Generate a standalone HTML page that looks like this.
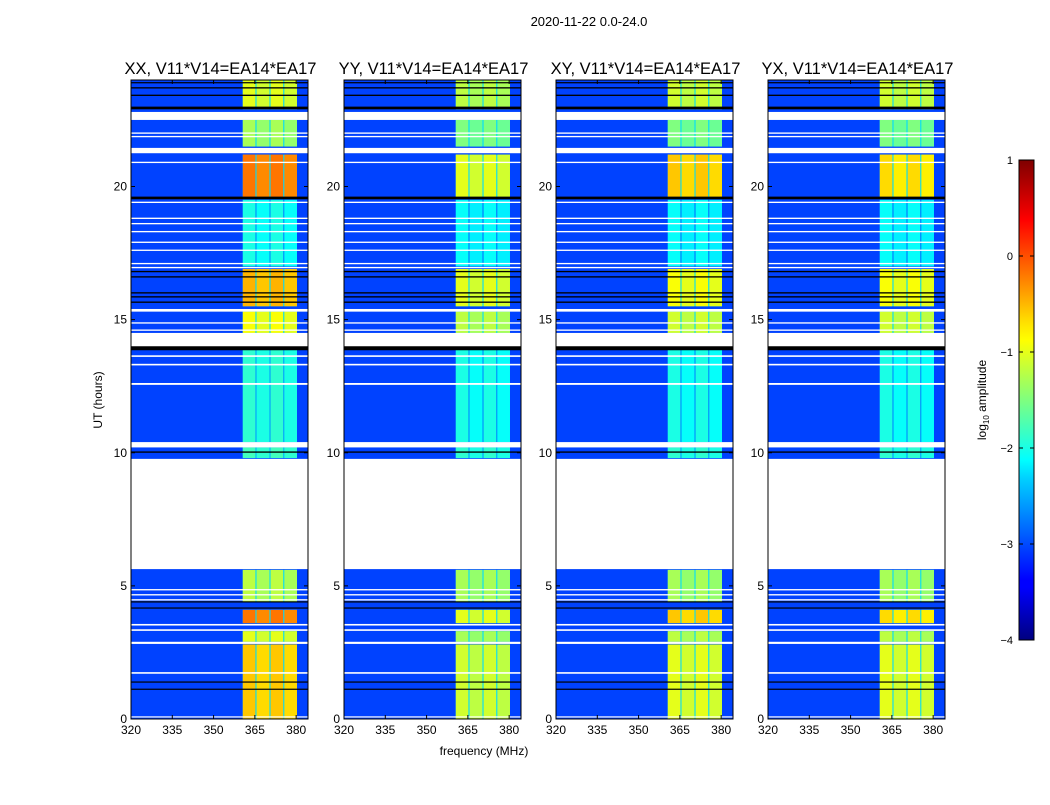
<!DOCTYPE html>
<html><head><meta charset="utf-8">
<style>
body{margin:0;background:#fff;}
svg text{font-family:"Liberation Sans",sans-serif;fill:#000;}
</style></head>
<body>
<svg id="fig" width="1050" height="800" xmlns="http://www.w3.org/2000/svg">
<defs>
<linearGradient id="jetgrad" x1="0" y1="1" x2="0" y2="0">
<stop offset="0" stop-color="#00007f"/><stop offset="0.11" stop-color="#0000ff"/>
<stop offset="0.125" stop-color="#0000ff"/><stop offset="0.34" stop-color="#00d4ff"/>
<stop offset="0.375" stop-color="#00ffff"/><stop offset="0.5" stop-color="#7fff7f"/>
<stop offset="0.625" stop-color="#ffff00"/><stop offset="0.66" stop-color="#ffe200"/>
<stop offset="0.875" stop-color="#ff0000"/><stop offset="1" stop-color="#7f0000"/>
</linearGradient>
</defs>
<text x="589" y="26" font-size="13" text-anchor="middle">2020-11-22 0.0-24.0</text>
<text transform="translate(102,400) rotate(-90)" font-size="12" text-anchor="middle">UT (hours)</text>
<text x="484" y="755" font-size="12" text-anchor="middle">frequency (MHz)</text>
<g id="panels"></g>
<g>
<rect x="1019" y="160" width="15" height="480" fill="url(#jetgrad)" stroke="#000" stroke-width="1"/>
<g id="cbticks"></g>
<text transform="translate(986,400) rotate(-90)" font-size="12" text-anchor="middle">log<tspan font-size="8" dy="3">10</tspan><tspan dy="-3"> amplitude</tspan></text>
</g>
</svg>
<script>
// ---- data ----
const panelTitles = ["XX, V11*V14=EA14*EA17","YY, V11*V14=EA14*EA17","XY, V11*V14=EA14*EA17","YX, V11*V14=EA14*EA17"];
const xTicks = [320,335,350,365,380];
const yTicks = [0,5,10,15,20];
const cbTicks = [1,0,-1,-2,-3,-4];
const subBands = [[360.6,365.2],[365.6,370.3],[370.7,375.3],[375.7,380.3]];
// time blocks [start, end] (hours) and band level (log10 amp) per polarization
const blockStart = [0, 2.9, 3.6, 4.4, 9.8, 10.4, 14.5, 15.5, 17.0, 19.6, 21.5, 22.9];
const blockEnd   = [2.8, 3.3, 4.1, 5.6, 10.2, 13.9, 15.3, 16.9, 19.5, 21.2, 22.5, 24.0];
const levelXX = [-0.6, -1.0, -0.2, -1.2, -1.8, -1.9, -0.9, -0.5, -2.0, -0.2, -1.3, -1.0];
const levelYY = [-1.1, -1.3, -1.0, -1.3, -1.9, -2.0, -1.2, -1.0, -2.1, -1.0, -1.5, -1.2];
const levelXY = [-1.0, -1.2, -0.6, -1.3, -1.9, -2.0, -1.1, -0.9, -2.1, -0.6, -1.5, -1.1];
const levelYX = [-1.0, -1.2, -0.7, -1.3, -1.9, -2.0, -1.1, -0.9, -2.1, -0.7, -1.5, -1.1];
const bgLevel = -3.05;
// flagged (white) intervals
const flagStart = [0.06, 1.70, 2.82, 3.31, 3.51, 4.45, 4.64, 4.83, 5.63, 10.2, 12.55, 13.28, 13.6, 13.95, 14.58, 14.85, 15.3, 16.93, 17.08, 17.58, 17.88, 18.28, 18.58, 18.78, 19.38, 20.88, 21.25, 21.85, 21.98, 22.5];
const flagEnd   = [0.10, 1.76, 2.90, 3.37, 3.57, 4.50, 4.69, 4.88, 9.77, 10.4, 12.62, 13.34, 13.66, 14.5, 14.63, 14.9, 15.4, 16.98, 17.13, 17.63, 17.93, 18.33, 18.63, 18.83, 19.43, 20.93, 21.45, 21.9, 22.03, 22.8];
// black (zero) lines
const zeroStart = [1.10, 1.37, 4.15, 4.38, 10.0, 13.85, 15.63, 15.83, 15.98, 16.58, 16.78, 19.52, 22.9, 23.4, 23.68, 23.88];
const zeroEnd   = [1.14, 1.41, 4.19, 4.42, 10.05, 14.0, 15.68, 15.88, 16.03, 16.63, 16.83, 19.62, 23.0, 23.45, 23.73, 23.92];

// ---- layout ----
const panelX = [131, 344, 556, 768];
const panelW = 177, plotTop = 80, plotBottom = 719;
const fMin = 320, fMax = 384.3, tMin = 0, tMax = 24;
const levels = [levelXX, levelYY, levelXY, levelYX];
const NS = "http://www.w3.org/2000/svg";
function jet(v){
  let n = (v + 4) / 5; n = Math.max(0, Math.min(1, n));
  const c = x => Math.round(255 * Math.max(0, Math.min(1, x)));
  return `rgb(${c(1.5-Math.abs(4*n-3))},${c(1.5-Math.abs(4*n-2))},${c(1.5-Math.abs(4*n-1))})`;
}
function mk(tag, attrs, parent){ const e = document.createElementNS(NS, tag); for (const k in attrs) e.setAttribute(k, attrs[k]); parent.appendChild(e); return e; }
const panels = document.getElementById('panels');
panelX.forEach((px, p) => {
  const xs = f => px + (f - fMin) / (fMax - fMin) * panelW;
  const ys = t => plotBottom - (t - tMin) / (tMax - tMin) * (plotBottom - plotTop);
  const g = mk('g', {}, panels);
  
  
  const bg = mk('rect', {x: px, y: plotTop, width: panelW, height: plotBottom-plotTop, fill: jet(bgLevel)}, g);
  
  
  blockStart.forEach((s, i) => {
    const e = blockEnd[i];
    const gap = mk('rect', {x: xs(subBands[0][0]), y: ys(e), width: xs(subBands[3][1]) - xs(subBands[0][0]), height: ys(s)-ys(e), fill: jet(Math.min(levels[p][i], -1.6) - 0.7)}, g);
    
    
    subBands.forEach((b, k) => {
      const r = mk('rect', {x: xs(b[0]), y: ys(e), width: xs(b[1]) - xs(b[0]), height: ys(s)-ys(e), fill: jet(levels[p][i] + (k===1||k===3 ? -0.1 : 0))}, g);
      
      
    });
  });
  flagStart.forEach((s, i) => {
    const r = mk('rect', {x: px, y: ys(flagEnd[i]), width: panelW, height: Math.max(1.2, ys(s)-ys(flagEnd[i])), fill: '#fff'}, g);
    
    
  });
  zeroStart.forEach((s, i) => {
    const r = mk('rect', {x: px, y: ys(zeroEnd[i]), width: panelW, height: Math.max(1.2, ys(s)-ys(zeroEnd[i])), fill: '#000'}, g);
    
    
  });
  const fr = mk('rect', {x: px, y: plotTop, width: panelW, height: plotBottom-plotTop, fill: 'none', stroke: '#000', 'stroke-width': 1}, g);
  
  
  const tt = mk('text', {x: px + panelW/2 + 1, y: 74, 'font-size': 16.5, 'text-anchor': 'middle'}, g);
  tt.textContent = panelTitles[p];
  
  
  xTicks.forEach(f => {
    mk('line', {x1: xs(f), x2: xs(f), y1: plotBottom, y2: plotBottom-4, stroke: '#000'}, g);
    mk('line', {x1: xs(f), x2: xs(f), y1: plotTop, y2: plotTop+4, stroke: '#000'}, g);
    const t = mk('text', {x: xs(f), y: plotBottom+15, 'font-size': 12, 'text-anchor': 'middle'}, g);
    t.textContent = f;
    
    
  });
  yTicks.forEach(v => {
    mk('line', {x1: px, x2: px+4, y1: ys(v), y2: ys(v), stroke: '#000'}, g);
    mk('line', {x1: px+panelW, x2: px+panelW-4, y1: ys(v), y2: ys(v), stroke: '#000'}, g);
    const t = mk('text', {x: px-4, y: ys(v)+4, 'font-size': 12, 'text-anchor': 'end'}, g);
    t.textContent = v;
    
    
  });
});
const cbg = document.getElementById('cbticks');
cbTicks.forEach(v => {
  const y = 640 - (v + 4) / 5 * 480;
  mk('line', {x1: 1019, x2: 1023, y1: y, y2: y, stroke: '#000'}, cbg);
  mk('line', {x1: 1030, x2: 1034, y1: y, y2: y, stroke: '#000'}, cbg);
  const t = mk('text', {x: 1013, y: y+4, 'font-size': 11, 'text-anchor': 'end'}, cbg);
  t.textContent = v < 0 ? '\u2212' + Math.abs(v) : v;
  
  
});
</script>
</body></html>
